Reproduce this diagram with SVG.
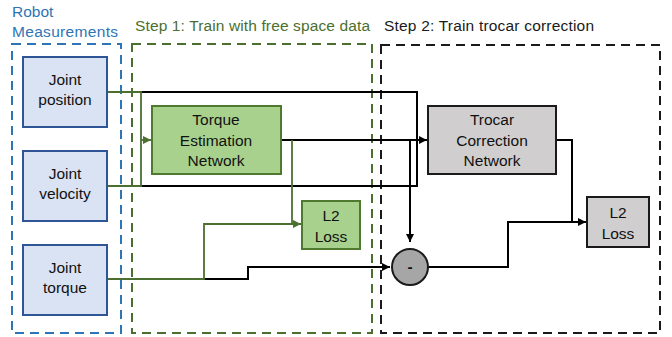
<svg xmlns="http://www.w3.org/2000/svg" width="672" height="337" viewBox="0 0 672 337">
<style>
text{font-family:"Liberation Sans",Arial,sans-serif;font-size:15.5px;fill:#111;text-anchor:middle}
.hdr{text-anchor:start;font-size:15.5px}
.blue{fill:#dae3f3;stroke:#2f5597;stroke-width:2}
.green{fill:#a9d18e;stroke:#4e7a30;stroke-width:2}
.gray{fill:#d0cece;stroke:#1a1a1a;stroke-width:2}
.k{fill:none;stroke:#000;stroke-width:2}
.g{fill:none;stroke:#4b6f2f;stroke-width:1.8}
</style>
<defs>
<marker id="ak" viewBox="0 0 8 8" refX="8" refY="4" markerWidth="8" markerHeight="8" markerUnits="userSpaceOnUse" orient="auto"><path d="M0,0L8,4L0,8z" fill="#000"/></marker>
<marker id="ag" viewBox="0 0 8 8" refX="8" refY="4" markerWidth="8" markerHeight="8" markerUnits="userSpaceOnUse" orient="auto"><path d="M0,0L8,4L0,8z" fill="#4b6f2f"/></marker>
</defs>
<g id="frames">
<rect x="12" y="44" width="109" height="289" fill="none" stroke="#2e75b6" stroke-width="2" stroke-dasharray="9,6"/>
<rect x="132" y="44" width="240" height="289" fill="none" stroke="#4b6f2f" stroke-width="2" stroke-dasharray="9,6"/>
<rect x="381" y="45" width="279" height="288" fill="none" stroke="#1a1a1a" stroke-width="2" stroke-dasharray="9,6"/>
<text class="hdr" x="12" y="17" style="fill:#2e75b6">Robot</text>
<text class="hdr" x="12" y="37" textLength="106" style="fill:#2e75b6">Measurements</text>
<text class="hdr" x="135" y="31" style="fill:#4b6f2f" textLength="235">Step 1: Train with free space data</text>
<text class="hdr" x="384" y="31" style="fill:#1a1a1a" textLength="210">Step 2: Train trocar correction</text>
</g>
<g id="connectors">
<path class="k" d="M141,92H417V186H141"/>
<path class="k" d="M281,140H427" marker-end="url(#ak)"/>
<path class="k" d="M410,140V242" marker-end="url(#ak)"/>
<path class="k" d="M203,279H248V267H390" marker-end="url(#ak)"/>
<path class="k" d="M428,267H508V222H586" marker-end="url(#ak)"/>
<path class="k" d="M556,140H572V222"/>
<path class="g" d="M107,92H141V186H107"/>
<path class="g" d="M141,140H151" marker-end="url(#ag)"/>
<path class="g" d="M292,140V224"/>
<path class="g" d="M107,279H204V224H301" marker-end="url(#ag)"/>
</g>
<g id="joint-position"><rect class="blue" x="23" y="57" width="84" height="70"/><text x="65" y="85">Joint</text><text x="65" y="105">position</text></g>
<g id="joint-velocity"><rect class="blue" x="23" y="151" width="84" height="70"/><text x="65" y="179">Joint</text><text x="65" y="199">velocity</text></g>
<g id="joint-torque"><rect class="blue" x="23" y="245" width="84" height="70"/><text x="65" y="273">Joint</text><text x="65" y="293">torque</text></g>
<g id="torque-estimation-network"><rect class="green" x="152" y="106" width="129" height="68"/><text x="216" y="125">Torque</text><text x="216" y="146">Estimation</text><text x="216" y="166">Network</text></g>
<g id="l2-loss-1"><rect class="green" x="302" y="201" width="58" height="48"/><text x="331" y="221">L2</text><text x="331" y="242">Loss</text></g>
<g id="trocar-correction-network"><rect class="gray" x="428" y="106" width="128" height="68"/><text x="492" y="125">Trocar</text><text x="492" y="146">Correction</text><text x="492" y="166">Network</text></g>
<g id="l2-loss-2"><rect class="gray" x="587" y="197" width="62" height="50"/><text x="618" y="218">L2</text><text x="618" y="239">Loss</text></g>
<g id="minus"><circle cx="410" cy="267" r="18" fill="#a6a6a6" stroke="#1a1a1a" stroke-width="2"/><text x="410" y="272" style="font-weight:bold">-</text></g>
</svg>
